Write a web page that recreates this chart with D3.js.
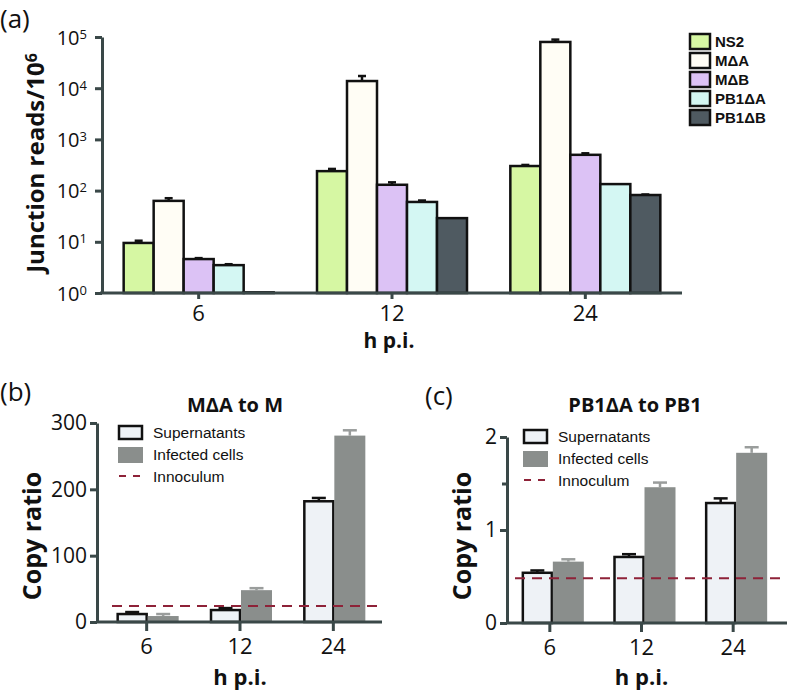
<!DOCTYPE html>
<html lang="en">
<head>
<meta charset="utf-8">
<title>Junction reads and copy ratio</title>
<script src="https://d3js.org/d3.v7.min.js"></script>
<style>
  body { margin: 0; background: #fff; }
  text { font-family: "Open Sans", "Noto Sans", sans-serif; fill: #111; }
  .bold { font-family: "Open Sans", "Liberation Sans", sans-serif; font-weight: bold; }
  .axis path, .axis line { stroke: #3a4848; stroke-width: 3; }
</style>
</head>
<body>
<script>
// ---- data: panel (a)
var hours = ["6", "12", "24"];
var series = ["NS2", "M\u0394A", "M\u0394B", "PB1\u0394A", "PB1\u0394B"];
var seriesColors = ["#d6f7a3", "#fffdf5", "#dcc2f5", "#d4f7f3", "#4f5a61"];
var reads = [
  [9.5, 63, 4.6, 3.5, 1.03],     // 6 h
  [240, 13800, 130, 60, 29],     // 12 h
  [302, 80000, 500, 134, 82]     // 24 h
];
var readsErr = [
  [1.0, 8, 0.2, 0.15, 0],
  [25, 3500, 15, 4, 0],
  [15, 9000, 35, 0, 2]
];

// ---- data: panel (b) M∆A to M
var groups = ["Supernatants", "Infected cells"];
var mRatio = [[12, 9], [18, 48], [182, 281]];
var mErr = [[3, 3], [3, 3], [5, 8]];
var mInoculum = 24;

// ---- data: panel (c) PB1∆A to PB1
var pbRatio = [[0.54, 0.66], [0.71, 1.46], [1.29, 1.83]];
var pbErr = [[0.025, 0.025], [0.03, 0.05], [0.05, 0.06]];
var pbInoculum = 0.48;

var w = 787, h = 692;
var svg = d3.select("body").append("svg").attr("width", w).attr("height", h);

var inocColor = "#8e2238";

// ===================== panel (a) =====================
svg.append("text").attr("x", 0).attr("y", 28).style("font-size", "26px").text("(a)");

var xA = d3.scaleBand().domain(hours).range([102, 682]);
var xAin = d3.scaleBand().domain(series).range([-75, 75]);
var yA = d3.scaleLog().domain([1, 1e5]).range([293, 37]);

var gA = svg.append("g");
reads.forEach(function(row, i) {
  row.forEach(function(v, j) {
    var x0 = xA(hours[i]) + xA.bandwidth() / 2 + xAin(series[j]);
    var cx = x0 + xAin.bandwidth() / 2;
    if (readsErr[i][j] > 0) {
      var ye = yA(v + readsErr[i][j]);
      gA.append("line").attr("x1", cx).attr("x2", cx)
        .attr("y1", yA(v)).attr("y2", ye).attr("stroke", "#111").attr("stroke-width", 2.5);
      gA.append("line").attr("x1", cx - 4).attr("x2", cx + 4)
        .attr("y1", ye).attr("y2", ye).attr("stroke", "#111").attr("stroke-width", 2.5);
    }
    gA.append("rect").attr("x", x0).attr("y", yA(v))
      .attr("width", xAin.bandwidth()).attr("height", yA(1) - yA(v))
      .attr("fill", seriesColors[j]).attr("stroke", "#111").attr("stroke-width", 2.5);
  });
});

var yAxisA = svg.append("g").attr("class", "axis").attr("transform", "translate(102,0)")
  .call(d3.axisLeft(yA).tickValues([1, 10, 100, 1e3, 1e4, 1e5]).tickSize(7).tickSizeOuter(0).tickFormat(""));
yAxisA.selectAll(".tick").append("text")
  .attr("x", -15).attr("dy", "0.35em").attr("text-anchor", "end")
  .style("font-size", "20px").style("fill", "#111")
  .each(function(d) {
    var t = d3.select(this);
    t.append("tspan").text("10");
    t.append("tspan").attr("dy", "-0.45em").style("font-size", "13px").text(Math.round(Math.log10(d)));
  });

var xAxisA = svg.append("g").attr("class", "axis").attr("transform", "translate(0,293)")
  .call(d3.axisBottom(xA).tickSize(6).tickSizeOuter(0));
xAxisA.select(".domain").attr("d", "M100,0H682");
xAxisA.selectAll(".tick text").attr("y", 12).style("font-size", "22px").style("fill", "#111")
  .style("font-family", "Open Sans, sans-serif");

svg.append("text").attr("class", "bold").attr("transform", "translate(44,163) rotate(-90)")
  .attr("text-anchor", "middle").style("font-size", "24px")
  .call(function(t) {
    t.append("tspan").text("Junction reads/10");
    t.append("tspan").attr("dy", "-0.45em").style("font-size", "16px").text("6");
  });
svg.append("text").attr("class", "bold").attr("x", 389).attr("y", 348).attr("text-anchor", "middle")
  .style("font-size", "21px").text("h p.i.");

// legend (a)
var legA = svg.append("g");
series.forEach(function(s, j) {
  var yy = 34 + j * 19;
  legA.append("rect").attr("x", 690).attr("y", yy).attr("width", 20).attr("height", 15)
    .attr("fill", seriesColors[j]).attr("stroke", "#111").attr("stroke-width", 2.5);
  legA.append("text").attr("x", 715).attr("y", yy + 13)
    .style("font-family", "'Liberation Sans Narrow', 'Liberation Sans', sans-serif")
    .style("font-weight", "bold").style("font-size", "15px").text(s);
});

// ===================== panels (b) and (c) =====================
function ratioPanel(opt) {
  var x = d3.scaleBand().domain(hours).range(opt.xr);
  var xin = d3.scaleBand().domain(groups).range(opt.inner);
  var y = d3.scaleLinear().domain(opt.yd).range([opt.y0, opt.y1]);
  var g = svg.append("g");

  svg.append("text").attr("x", opt.labX).attr("y", opt.labY).style("font-size", "26px").text(opt.label);
  svg.append("text").attr("class", "bold").attr("x", opt.titleX).attr("y", opt.titleY)
    .attr("text-anchor", "middle").style("font-size", "20px").text(opt.title);

  opt.values.forEach(function(row, i) {
    row.forEach(function(v, j) {
      var x0 = x(hours[i]) + x.bandwidth() / 2 + xin(groups[j]);
      var cx = x0 + xin.bandwidth() / 2;
      var ec = j === 0 ? "#111" : "#9a9d9c";
      var ye = y(v + opt.err[i][j]);
      g.append("line").attr("x1", cx).attr("x2", cx).attr("y1", y(v)).attr("y2", ye)
        .attr("stroke", ec).attr("stroke-width", 2.5);
      g.append("line").attr("x1", cx - 7).attr("x2", cx + 7).attr("y1", ye).attr("y2", ye)
        .attr("stroke", ec).attr("stroke-width", 2.5);
      var r = g.append("rect").attr("y", y(v)).attr("height", y(0) - y(v));
      if (j === 0) {
        r.attr("x", x0 + 1).attr("width", xin.bandwidth() - 2)
          .attr("fill", "#eef2f6").attr("stroke", "#111").attr("stroke-width", 2.5);
      } else {
        r.attr("x", x0).attr("width", xin.bandwidth()).attr("fill", "#8a8e8c");
      }
    });
  });

  g.append("line").attr("x1", opt.lineStart).attr("x2", opt.lineEnd)
    .attr("y1", y(opt.inoc)).attr("y2", y(opt.inoc))
    .attr("stroke", inocColor).attr("stroke-width", 2).attr("stroke-dasharray", "10,7");

  var ya = svg.append("g").attr("class", "axis").attr("transform", "translate(" + opt.ax + ",0)")
    .call(d3.axisLeft(y).tickValues(opt.ticks).tickSize(7).tickSizeOuter(0).tickFormat(d3.format("d")));
  ya.selectAll(".tick text").attr("x", -10).style("font-size", "21px").style("fill", "#111");
  if (opt.minor) {
    svg.append("g").attr("class", "axis").attr("transform", "translate(" + opt.ax + ",0)")
      .call(d3.axisLeft(y).tickValues(opt.minor).tickSize(5).tickFormat(""))
      .select(".domain").remove();
  }
  var xa = svg.append("g").attr("class", "axis").attr("transform", "translate(0," + opt.y0 + ")")
    .call(d3.axisBottom(x).tickSize(9).tickSizeOuter(0));
  xa.select(".domain").attr("d", "M" + (opt.ax - 1) + ",0H" + opt.lineEnd);
  xa.selectAll(".tick text").attr("y", 16).style("font-size", "22px").style("fill", "#111");

  svg.append("text").attr("class", "bold").attr("transform", "translate(" + opt.ylabX + ",536) rotate(-90)")
    .attr("text-anchor", "middle").style("font-size", "25px").text("Copy ratio");
  svg.append("text").attr("class", "bold").attr("x", x(hours[1]) + x.bandwidth() / 2).attr("y", 685)
    .attr("text-anchor", "middle").style("font-size", "22px").text("h p.i.");

  // legend
  var lx = opt.legX, ly = opt.legY;
  svg.append("rect").attr("x", lx).attr("y", ly).attr("width", 23).attr("height", 13)
    .attr("fill", "#eef2f6").attr("stroke", "#111").attr("stroke-width", 2.5);
  svg.append("rect").attr("x", lx - 1).attr("y", ly + 21).attr("width", 25).attr("height", 16)
    .attr("fill", "#8a8e8c");
  svg.append("line").attr("x1", lx).attr("x2", lx + 25).attr("y1", ly + 50).attr("y2", ly + 50)
    .attr("stroke", inocColor).attr("stroke-width", 2).attr("stroke-dasharray", "7,7");
  ["Supernatants", "Infected cells", "Innoculum"].forEach(function(s, k) {
    svg.append("text").attr("x", lx + 34).attr("y", ly + 12 + k * 22)
      .style("font-family", "'Liberation Sans', Arial, sans-serif").style("font-size", "15.5px").text(s);
  });
}

ratioPanel({
  xr: [100, 380], inner: [-30, 32], yd: [0, 300], y0: 622, y1: 423,
  values: mRatio, err: mErr, inoc: mInoculum, ticks: [0, 100, 200, 300],
  ax: 97, lineStart: 112, lineEnd: 382, label: "(b)", labX: 0, labY: 401,
  title: "M\u0394A to M", titleX: 235, titleY: 412, ylabX: 41,
  legX: 119, legY: 426
});

ratioPanel({
  xr: [504, 779], inner: [-28, 34], yd: [0, 2], y0: 623, y1: 437,
  values: pbRatio, err: pbErr, inoc: pbInoculum, ticks: [0, 1, 2], minor: [1.5],
  ax: 507, lineStart: 515, lineEnd: 787, label: "(c)", labX: 425, labY: 405,
  title: "PB1\u0394A to PB1", titleX: 635, titleY: 412, ylabX: 471,
  legX: 524, legY: 430
});
</script>
</body>
</html>
